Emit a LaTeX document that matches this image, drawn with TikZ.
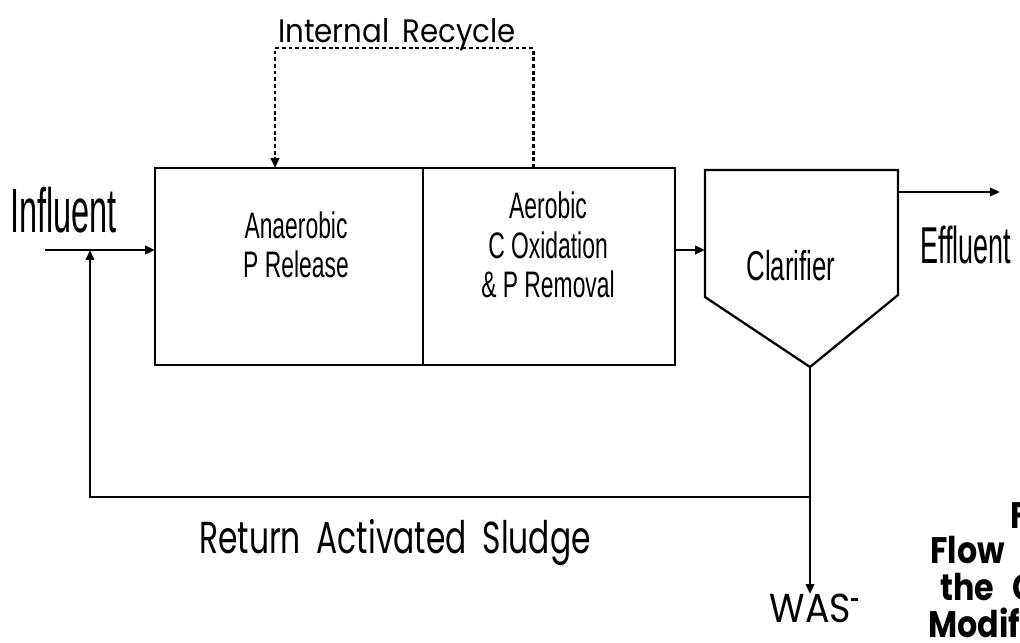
\documentclass[tikz,border=0pt]{standalone}
\usepackage{fontspec}
\usetikzlibrary{arrows.meta,positioning,calc}
\newfontfamily\tightfont[FakeStretch=0.52]{Liberation Sans}
\newfontfamily\narrowfont[FakeStretch=0.62]{Liberation Sans}
\newfontfamily\roundfont[FakeStretch=0.7]{Poppins}
\newfontfamily\softfont[FakeStretch=0.9]{Poppins}
\newfontfamily\capfont[FakeStretch=0.86]{Poppins}

\tikzset{
  tank/.style={draw, line width=1.3pt, minimum height=3.94cm, inner sep=0pt, outer sep=0pt},
  pipe/.style={line width=1.3pt},
  flow/.style={pipe, -{Triangle[length=0.2cm,width=0.17cm]}},
  recycle/.style={line width=1.7pt, dash pattern=on 2.2pt off 1.6pt},
  tanklabel/.style={font=\narrowfont\fontsize{21}{22.5}\selectfont, align=center, inner sep=0pt},
  streamlabel/.style={font=\tightfont\fontsize{35.6}{40}\selectfont, inner sep=0pt, anchor=base west},
  notelabel/.style={font=\softfont\fontsize{#1}{#1}\selectfont, inner sep=0pt, anchor=base},
  caption/.style={font=\capfont\bfseries\fontsize{21}{21}\selectfont, inner sep=0pt, anchor=base west},
}

\begin{document}
\begin{tikzpicture}[x=0.02cm, y=-0.02cm]
  \useasboundingbox (0,0) rectangle (1020,642);

  % reactor basins
  \node[tank, minimum width=5.36cm] (anae) at (289,266.5) {};
  \node[tank, minimum width=5.04cm, right=0pt of anae] (aero) {};
  \node[tanklabel] (anaetext) at (296,245) {Anaerobic\\P Release};
  \node[tanklabel] (aerotext) at (548,245) {Aerobic\\C Oxidation\\\& P Removal};

  % clarifier
  \coordinate (clarNW) at (705,170);
  \coordinate (clarNE) at (898,170);
  \coordinate (clarE) at (898,295);
  \coordinate (clarApex) at (810,367);
  \coordinate (clarW) at (705,297);
  \draw[pipe] (clarW) -- (clarNW) -- (clarNE) -- (clarE) -- (clarApex) -- cycle;
  \node[font=\narrowfont\fontsize{23.7}{26}\selectfont, inner sep=0pt] (clar) at (791,266) {Clarifier};

  % streams
  \coordinate (clarIn) at (705,250);
  \coordinate (clarOut) at (898,192);
  \coordinate (effEnd) at (1000,192);
  \coordinate (inStart) at (45,250);
  \node[streamlabel] (infl) at (10,232) {Influent};
  \node[streamlabel, font=\tightfont\fontsize{29.5}{32}\selectfont] (effl) at (920,263) {Effluent};
  \draw[flow] (inStart) -- (inStart -| anae.west);
  \draw[flow] (aero.east |- clarIn) -- (clarIn);
  \draw[flow] (clarOut) -- (effEnd);

  % internal recycle
  \coordinate (recFrom) at (533,168);
  \coordinate (recTo) at (275,168);
  \draw[recycle, -{Triangle[length=0.2cm,width=0.17cm]}] (recFrom) -- ++(0,-120) -| (recTo);
  \node[notelabel=18.5] (irec) at (397,43) {Internal\, Recycle};

  % sludge lines
  \node[notelabel=23, anchor=north] (was) at (814,594) {WAS\raisebox{0.55em}{\rule{0.18em}{0.06em}}};
  \coordinate (rasSplit) at (810,497);
  \coordinate (rasTurn) at (90,497);
  \draw[flow] (clarApex) -- (clarApex |- was.north);
  \draw[flow] (rasSplit) -- (rasTurn) -- (rasTurn |- inStart);
  \node[notelabel=25.5, font=\roundfont\fontsize{25.5}{25.5}\selectfont] (ras) at (395,553) {Return\, Activated\, Sludge};

  % caption, cut at the page edge
  \node[caption] (capA) at (1010,528) {F};
  \node[caption] (capB) at (930,563) {Flow};
  \node[caption] (capC) at (940,600) {the\hspace{0.5em}C};
  \node[caption] (capD) at (928,637) {Modif};
\end{tikzpicture}
\end{document}
